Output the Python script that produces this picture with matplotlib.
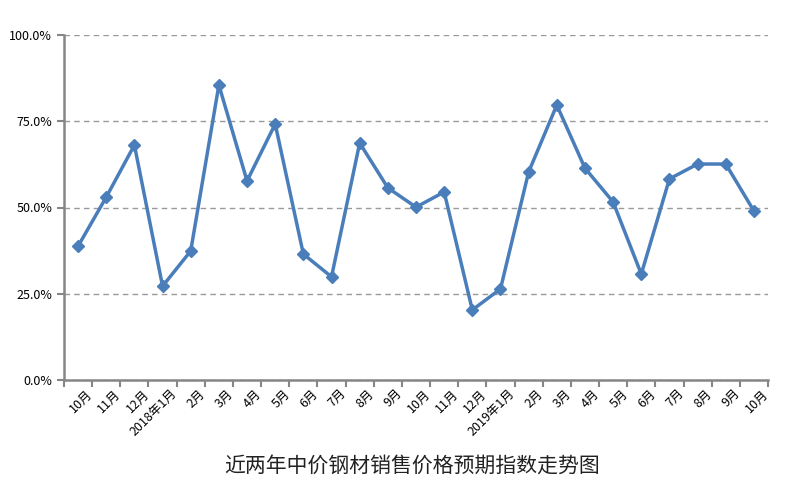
import numpy as np
import matplotlib
matplotlib.use("Agg")
from matplotlib import pyplot as plt
from matplotlib import transforms
from matplotlib.ticker import PercentFormatter, FixedLocator

plt.rcParams['font.family'] = ['Noto Sans CJK SC', 'DejaVu Sans']

labels = ['10月', '11月', '12月', '2018年1月', '2月', '3月', '4月', '5月', '6月',
          '7月', '8月', '9月', '10月', '11月', '12月', '2019年1月', '2月', '3月',
          '4月', '5月', '6月', '7月', '8月', '9月', '10月']
values = [38.8, 53.0, 68.1, 27.2, 37.4, 85.5, 57.7, 74.2, 36.5, 29.9, 68.7, 55.7,
          50.1, 54.5, 20.3, 26.4, 60.3, 79.7, 61.4, 51.6, 30.7, 58.3, 62.6, 62.6, 49.0]

fig = plt.figure(figsize=(8, 5), dpi=100)
ax = fig.add_axes([0.08, 0.24, 0.88, 0.69])

x = np.arange(len(values))
ax.plot(x, values, color='#4a7ebb', linewidth=2.5, marker='D', markersize=6,
        markeredgecolor='#4a7ebb', markerfacecolor='#4a7ebb')

ax.set_xlim(-0.5, len(values) - 0.5)
ax.set_ylim(0, 100)
ax.set_yticks([0, 25, 50, 75, 100])
ax.yaxis.set_major_formatter(PercentFormatter(decimals=1))
ax.grid(axis='y', linestyle=(0, (4, 3)), color='#9a9a9a', linewidth=1)
ax.set_axisbelow(True)

ax.set_xticks(x)
ax.set_xticklabels(labels, rotation=45, ha='right', rotation_mode='anchor', fontsize=9)
ax.xaxis.set_minor_locator(FixedLocator(np.arange(-0.5, len(values), 1)))
ax.tick_params(axis='x', which='major', length=0, pad=5)
ax.tick_params(axis='x', which='minor', length=5, color='#868686', width=1.5)
ax.tick_params(axis='y', length=5, color='#868686', width=1.5, labelsize=9)

# shift rotated labels a bit to the right like the original
shift = transforms.ScaledTranslation(8 / 100, 0, fig.dpi_scale_trans)
for lab in ax.get_xticklabels():
    lab.set_transform(lab.get_transform() + shift)

for s in ['top', 'right']:
    ax.spines[s].set_visible(False)
for s in ['left', 'bottom']:
    ax.spines[s].set_color('#868686')
    ax.spines[s].set_linewidth(1.8)

fig.text(0.515, 0.068, '近两年中价钢材销售价格预期指数走势图', ha='center', va='center',
         fontsize=15, color='#222222')

fig.savefig('out.png', dpi=100)
